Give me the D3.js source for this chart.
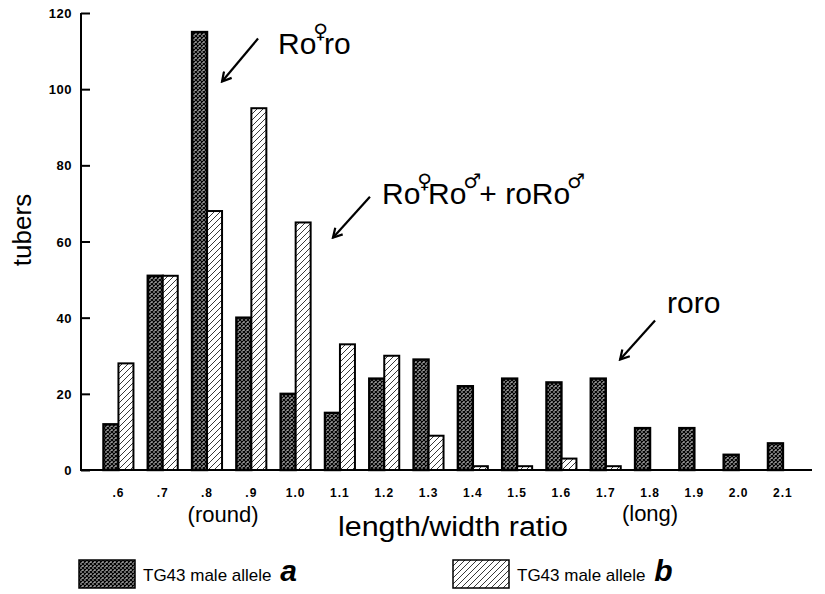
<!DOCTYPE html>
<html>
<head>
<meta charset="utf-8">
<script src="https://cdn.jsdelivr.net/npm/d3@7"></script>
<style>
  html, body { margin: 0; padding: 0; background: #fff; }
  svg { display: block; font-family: "Liberation Sans", Arial, Helvetica, sans-serif; }
</style>
</head>
<body>
<svg id="chart" width="825" height="594"></svg>
<script>
// tuber length/width ratio counts
const categories = ['.6', '.7', '.8', '.9', '1.0', '1.1', '1.2', '1.3',
  '1.4', '1.5', '1.6', '1.7', '1.8', '1.9', '2.0', '2.1'];
const alleleA = [12, 51, 115, 40, 20, 15, 24, 29, 22, 24, 23, 24, 11, 11, 4, 7];
const alleleB = [28, 51, 68, 95, 65, 33, 30, 9, 1, 1, 3, 1, 0, 0, 0, 0];
const yTicks = [0, 20, 40, 60, 80, 100, 120];
const seriesNames = ['a', 'b'];

const svg = d3.select('#chart');

const x = d3.scaleBand()
  .domain(categories)
  .range([96.3, 805.1])
  .paddingInner(0.323)
  .paddingOuter(0.1615);

const xSub = d3.scaleBand()
  .domain(seriesNames)
  .range([0, x.bandwidth()]);

const y = d3.scaleLinear().domain([0, 120]).range([470, 13]);
const mid = (c) => x(c) + x.bandwidth() / 2;

// fill patterns: dark halftone for allele a, diagonal hatch for allele b
const defs = svg.append('defs');
const dark = defs.append('pattern')
  .attr('id', 'pat-a')
  .attr('patternUnits', 'userSpaceOnUse')
  .attr('width', 4).attr('height', 4);
dark.append('rect').attr('width', 4).attr('height', 4).attr('fill', '#9a9a9a');
dark.append('path')
  .attr('d', 'M0,0 L4,4 M4,0 L0,4')
  .attr('stroke', '#000').attr('stroke-width', 1.2);

const hatch = defs.append('pattern')
  .attr('id', 'pat-b')
  .attr('patternUnits', 'userSpaceOnUse')
  .attr('width', 6).attr('height', 6);
hatch.append('rect').attr('width', 6).attr('height', 6).attr('fill', '#fff');
hatch.append('path')
  .attr('d', 'M0,6 L6,0 M-1,1 L1,-1 M5,7 L7,5')
  .attr('stroke', '#222').attr('stroke-width', 0.9);

const fills = { a: 'url(#pat-a)', b: 'url(#pat-b)' };

const rows = categories.flatMap((c, i) => [
  { cat: c, s: 'a', v: alleleA[i] },
  { cat: c, s: 'b', v: alleleB[i] },
]).filter((d) => d.v > 0);

svg.append('g')
  .selectAll('rect')
  .data(rows)
  .join('rect')
  .attr('x', (d) => x(d.cat) + xSub(d.s))
  .attr('y', (d) => y(d.v))
  .attr('width', xSub.bandwidth())
  .attr('height', (d) => y(0) - y(d.v))
  .attr('fill', (d) => fills[d.s])
  .attr('stroke', '#000')
  .attr('stroke-width', (d) => (d.s === 'a' ? 2.4 : 2));

// y axis: ticks pointing inward, bold labels
const yAxis = svg.append('g')
  .attr('transform', 'translate(81,0)')
  .call(d3.axisRight(y).tickValues(yTicks).tickSize(9).tickFormat(() => ''));
yAxis.select('.domain').attr('stroke-width', 2).attr('d', `M0,${y(0)}V${y(120)}`);
yAxis.selectAll('.tick line').attr('stroke-width', 2);

svg.append('g')
  .selectAll('text')
  .data(yTicks)
  .join('text')
  .attr('x', 72)
  .attr('y', (d) => y(d) + 5)
  .attr('text-anchor', 'end')
  .attr('font-size', 13)
  .attr('font-weight', 'bold')
  .attr('letter-spacing', 0.5)
  .text((d) => d);

// x baseline
svg.append('line')
  .attr('x1', 80).attr('x2', 812)
  .attr('y1', y(0)).attr('y2', y(0))
  .attr('stroke', '#000').attr('stroke-width', 2);

svg.append('g')
  .selectAll('text')
  .data(categories)
  .join('text')
  .attr('x', mid)
  .attr('y', 497)
  .attr('text-anchor', 'middle')
  .attr('font-size', 12)
  .attr('font-weight', 'bold')
  .attr('letter-spacing', 1)
  .text((d) => d);

// axis titles
svg.append('text')
  .attr('transform', 'translate(31,230) rotate(-90)')
  .attr('text-anchor', 'middle')
  .attr('font-size', 26)
  .text('tubers');

svg.append('text')
  .attr('x', 453).attr('y', 536)
  .attr('text-anchor', 'middle')
  .attr('font-size', 27)
  .attr('textLength', 230).attr('lengthAdjust', 'spacingAndGlyphs')
  .text('length/width ratio');

svg.append('text')
  .attr('x', mid('.8') + 16).attr('y', 522)
  .attr('text-anchor', 'middle')
  .attr('font-size', 22)
  .text('(round)');

svg.append('text')
  .attr('x', mid('1.8')).attr('y', 521)
  .attr('text-anchor', 'middle')
  .attr('font-size', 22)
  .text('(long)');

// annotations: arrow tip given in data terms, tail as an offset
defs.append('marker')
  .attr('id', 'arrow')
  .attr('viewBox', '0 0 12 12')
  .attr('refX', 10).attr('refY', 6)
  .attr('markerWidth', 12).attr('markerHeight', 12)
  .attr('markerUnits', 'userSpaceOnUse')
  .attr('orient', 'auto')
  .append('path')
  .attr('d', 'M1,1 L10,6 L1,11')
  .attr('fill', 'none').attr('stroke', '#000').attr('stroke-width', 2.2);

const arrows = [
  { cat: '.8', dx: 15, v: 102, tx: 36, ty: -43 },
  { cat: '1.1', dx: -7, v: 61, tx: 37, ty: -41 },
  { cat: '1.8', dx: -30, v: 29, tx: 35, ty: -39 },
];
svg.append('g')
  .selectAll('line')
  .data(arrows)
  .join('line')
  .attr('x1', (d) => mid(d.cat) + d.dx + d.tx)
  .attr('y1', (d) => y(d.v) + d.ty)
  .attr('x2', (d) => mid(d.cat) + d.dx)
  .attr('y2', (d) => y(d.v))
  .attr('stroke', '#000').attr('stroke-width', 2.2)
  .attr('marker-end', 'url(#arrow)');

const FEMALE = '\u2640';
const MALE = '\u2642';
const symStyle = (t) => t.attr('font-family', '"DejaVu Sans", sans-serif').attr('font-size', 20);

const t1 = svg.append('text').attr('x', 278).attr('y', 54).attr('font-size', 30);
t1.append('tspan').text('Ro');
t1.append('tspan').call(symStyle).attr('dx', -3).attr('dy', -16).text(FEMALE);
t1.append('tspan').attr('dx', -4).attr('dy', 16).text('ro');

const t2 = svg.append('text').attr('x', 382).attr('y', 204).attr('font-size', 30);
t2.append('tspan').text('Ro');
t2.append('tspan').call(symStyle).attr('dx', -3).attr('dy', -16).text(FEMALE);
t2.append('tspan').attr('dx', -4).attr('dy', 16).text('Ro');
t2.append('tspan').call(symStyle).attr('dx', -3).attr('dy', -16).text(MALE);
t2.append('tspan').attr('dx', -2).attr('dy', 16).text('+ roRo');
t2.append('tspan').call(symStyle).attr('dx', -3).attr('dy', -16).text(MALE);

svg.append('text').attr('x', 667).attr('y', 313).attr('font-size', 30).text('roro');

// legend
const legend = [
  { s: 'a', x: 79, label: 'TG43 male allele ', tag: 'a' },
  { s: 'b', x: 453, label: 'TG43 male allele ', tag: 'b' },
];
const lg = svg.append('g')
  .selectAll('g')
  .data(legend)
  .join('g')
  .attr('transform', (d) => `translate(${d.x},560)`);
lg.append('rect')
  .attr('width', 56).attr('height', 28)
  .attr('fill', (d) => fills[d.s])
  .attr('stroke', '#000').attr('stroke-width', 1.5);
const lt = lg.append('text').attr('x', 64).attr('y', 21).attr('font-size', 17);
lt.append('tspan').text((d) => d.label);
lt.append('tspan')
  .attr('font-size', 30).attr('font-weight', 'bold').attr('font-style', 'italic')
  .attr('dx', 4)
  .text((d) => d.tag);
</script>
</body>
</html>
